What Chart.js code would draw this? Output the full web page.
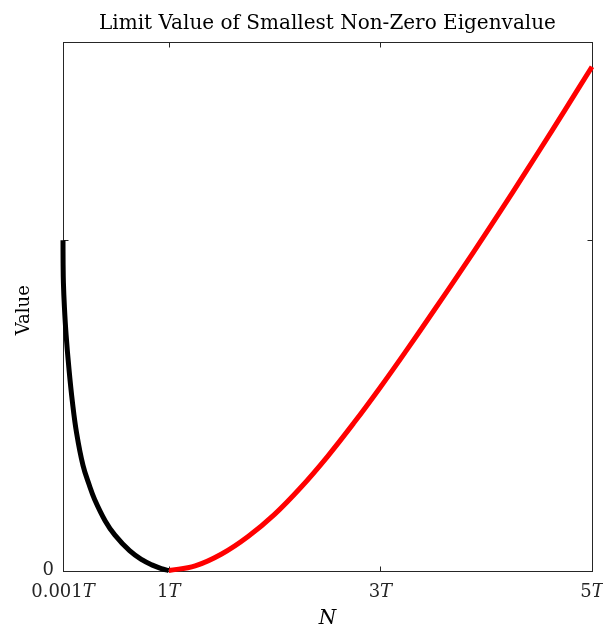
<!DOCTYPE html>
<html>
<head>
<meta charset="utf-8">
<script src="https://cdn.jsdelivr.net/npm/chart.js@4"></script>
<style>
  html, body { margin: 0; padding: 0; background: #fff; }
  #chart { display: block; }
</style>
</head>
<body>
<canvas id="chart" width="603" height="628"></canvas>
<script>
const TITLE = "Limit Value of Smallest Non-Zero Eigenvalue";
const X_LABEL = "N";
const Y_LABEL = "Value";

// black branch: N below T
const lowN = [0.001, 0.002, 0.005, 0.014, 0.03, 0.057, 0.09, 0.13, 0.19, 0.25, 0.30, 0.40, 0.49, 0.63, 0.75, 0.84, 0.93, 1.0];
const lowValue = [1.0, 0.93, 0.87, 0.80, 0.715, 0.612, 0.51, 0.415, 0.318, 0.258, 0.215, 0.150, 0.108, 0.060, 0.032, 0.017, 0.006, 0];

// red branch: N above T
const highN = [1.0, 1.25, 1.5, 1.75, 2.0, 2.25, 2.5, 2.75, 3.0, 3.25, 3.5, 3.75, 4.0, 4.25, 4.5, 4.75, 5.0];
const highValue = [0, 0.014, 0.05, 0.103, 0.17, 0.252, 0.345, 0.447, 0.555, 0.668, 0.784, 0.902, 1.022, 1.145, 1.27, 1.397, 1.525];

const xTickValues = [0.001, 1, 3, 5];
const xTickLabels = ["0.001", "1", "3", "5"];
const yTickValues = [0, 1];
const yTickLabels = ["0", ""];

const AXIS_COLOR = "#262626";
const SERIF = "'DejaVu Serif', 'Liberation Serif', serif";

function toPoints(xs, ys) {
  return xs.map((x, i) => ({ x, y: ys[i] }));
}

// label like "0.001T" with the T in italic, centered on x
function drawTickLabel(ctx, num, x, y) {
  ctx.font = `18px ${SERIF}`;
  const w1 = ctx.measureText(num).width;
  ctx.font = `italic 18px ${SERIF}`;
  const w2 = ctx.measureText("T").width;
  const start = x - (w1 + w2) / 2;
  ctx.textAlign = "left";
  ctx.font = `18px ${SERIF}`;
  ctx.fillText(num, start, y);
  ctx.font = `italic 18px ${SERIF}`;
  ctx.fillText("T", start + w1, y);
}

const axesPlugin = {
  id: "matlabAxes",
  beforeDatasetsDraw(chart) {
    const { ctx, chartArea: a, scales } = chart;
    const left = Math.round(a.left) + 0.5;
    const right = Math.round(a.right) + 0.5;
    const top = Math.round(a.top) + 0.5;
    const bottom = Math.round(a.bottom) + 0.5;
    ctx.save();
    ctx.strokeStyle = AXIS_COLOR;
    ctx.lineWidth = 1;
    ctx.strokeRect(left, top, right - left, bottom - top);

    const tick = 5;
    ctx.beginPath();
    xTickValues.forEach((v) => {
      const px = Math.round(scales.x.getPixelForValue(v)) + 0.5;
      ctx.moveTo(px, bottom);
      ctx.lineTo(px, bottom - tick);
      ctx.moveTo(px, top);
      ctx.lineTo(px, top + tick);
    });
    yTickValues.forEach((v) => {
      const py = Math.round(scales.y.getPixelForValue(v)) + 0.5;
      ctx.moveTo(left, py);
      ctx.lineTo(left + tick, py);
      ctx.moveTo(right, py);
      ctx.lineTo(right - tick, py);
    });
    ctx.stroke();
    ctx.restore();
  },
  afterDraw(chart) {
    const { ctx, chartArea: a, scales } = chart;
    ctx.save();
    ctx.fillStyle = AXIS_COLOR;
    ctx.textBaseline = "alphabetic";

    xTickValues.forEach((v, i) => {
      drawTickLabel(ctx, xTickLabels[i], scales.x.getPixelForValue(v), a.bottom + 26);
    });

    ctx.font = `18px ${SERIF}`;
    ctx.textAlign = "right";
    ctx.textBaseline = "middle";
    yTickValues.forEach((v, i) => {
      if (yTickLabels[i]) ctx.fillText(yTickLabels[i], a.left - 9, scales.y.getPixelForValue(v));
    });

    ctx.fillStyle = "#000";
    ctx.textAlign = "center";
    ctx.textBaseline = "alphabetic";
    ctx.font = `20px ${SERIF}`;
    ctx.fillText(TITLE, (a.left + a.right) / 2, 29);

    ctx.font = `italic 20px ${SERIF}`;
    ctx.fillText(X_LABEL, (a.left + a.right) / 2, 624);

    ctx.save();
    ctx.translate(29, (a.top + a.bottom) / 2 + 4);
    ctx.rotate(-Math.PI / 2);
    ctx.font = `18px ${SERIF}`;
    ctx.fillText(Y_LABEL, 0, 0);
    ctx.restore();

    ctx.restore();
  },
};

new Chart(document.getElementById("chart"), {
  type: "line",
  data: {
    datasets: [
      {
        data: toPoints(lowN, lowValue),
        borderColor: "#000000",
        borderWidth: 5,
        pointRadius: 0,
        tension: 0.4,
        clip: false,
      },
      {
        data: toPoints(highN, highValue),
        borderColor: "#ff0000",
        borderWidth: 5,
        pointRadius: 0,
        tension: 0.4,
        clip: false,
      },
    ],
  },
  options: {
    responsive: false,
    animation: false,
    events: [],
    layout: { padding: { left: 63, right: 11, top: 42, bottom: 57.5 } },
    plugins: {
      legend: { display: false },
      title: { display: false },
      tooltip: { enabled: false },
    },
    scales: {
      x: { type: "linear", min: 0.001, max: 5, display: false },
      y: { type: "linear", min: 0, max: 1.6, display: false },
    },
  },
  plugins: [axesPlugin],
});
</script>
</body>
</html>
